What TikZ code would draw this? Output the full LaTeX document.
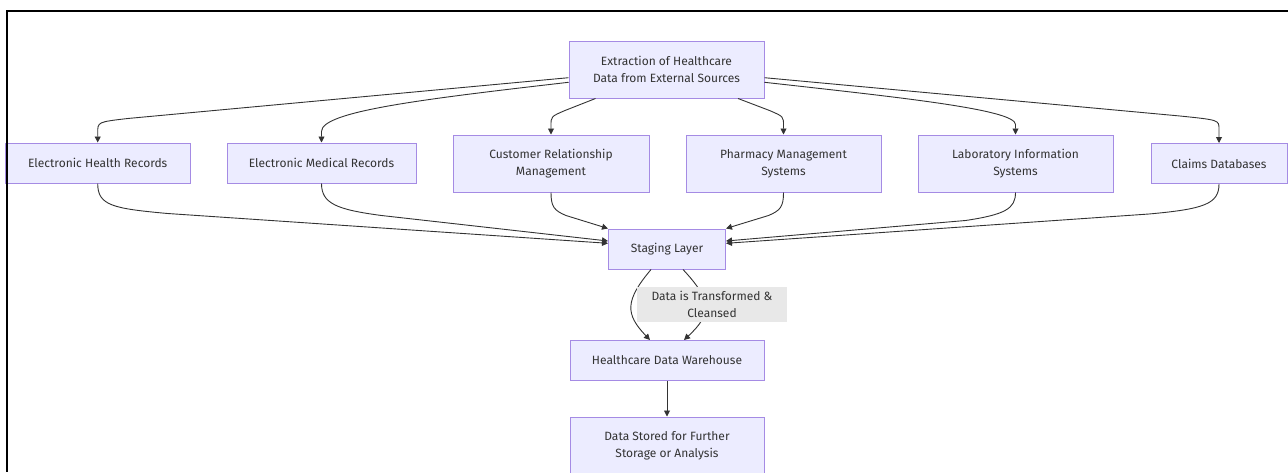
\documentclass[tikz,border=0pt]{standalone}
\usepackage{fontspec}
\setmainfont{Fira Sans}
\usetikzlibrary{arrows.meta,calc}
\definecolor{boxfill}{HTML}{ECECFF}
\definecolor{boxline}{HTML}{A58BE4}
\definecolor{ink}{HTML}{333333}
\definecolor{labelbg}{HTML}{E8E8E8}

\begin{document}
\begin{tikzpicture}[x=1pt,y=-1pt,
  box/.style={draw=boxline, fill=boxfill, line width=1pt, inner sep=0pt,
    align=center, text=ink, font=\fontsize{12}{17}\selectfont},
  onebox/.style={box, minimum height=40pt},
  twobox/.style={box, minimum height=57pt},
  lbl/.style={fill=labelbg, inner sep=0pt, align=center, text=ink,
    minimum width=150pt, minimum height=35pt, font=\fontsize{12}{17}\selectfont},
  flow/.style={draw=ink, line width=0.9pt, -{Triangle[length=6pt,width=6pt]}},
]
\useasboundingbox (0,0) rectangle (1288,472);

% sources and targets
\node[twobox, minimum width=195pt] (ext) at (666.5,69.5) {Extraction of Healthcare\\Data from External Sources};
\node[onebox, minimum width=185pt] (ehr) at (97.7,163) {Electronic Health Records};
\node[onebox, minimum width=189pt] (emr) at (321.5,163) {Electronic Medical Records};
\node[twobox, minimum width=196pt] (crm) at (551,163.5) {Customer Relationship\\Management};
\node[twobox, minimum width=195pt] (pms) at (783.5,163.5) {Pharmacy Management\\Systems};
\node[twobox, minimum width=195pt] (lis) at (1015.5,163.5) {Laboratory Information\\Systems};
\node[onebox, minimum width=136pt] (cdb) at (1219,163.5) {Claims Databases};
\node[onebox, minimum width=117pt] (stg) at (667,249) {Staging Layer};
\node[onebox, minimum width=194pt] (dwh) at (667,360.5) {Healthcare Data Warehouse};
\node[twobox, minimum width=194pt] (out) at (667,445.5) {Data Stored for Further\\Storage or Analysis};

% extraction fans out to the source systems
\draw[flow] ($(ext.west)+(0,8.2)$) -- ($(ehr.north)+(30,-24)$)
  .. controls ($(ehr.north)+(0,-20.5)$) .. ($(ehr.north)+(0,-10)$) -- (ehr.north);
\draw[flow] ($(ext.west)+(0,12.8)$)
  .. controls ($(emr.north)+(98,-43)$) and ($(emr.north)+(0,-31)$) .. ($(emr.north)+(0,-11)$) -- (emr.north);
\draw[flow] ($(ext.south)+(-71,0)$) -- ($(crm.north)+(14,-24)$)
  .. controls ($(crm.north)+(0,-18)$) .. ($(crm.north)+(0,-9)$) -- (crm.north);
\draw[flow] ($(ext.south)+(71.5,0)$) -- ($(pms.north)+(-14,-24)$)
  .. controls ($(pms.north)+(0,-18)$) .. ($(pms.north)+(0,-9)$) -- (pms.north);
\draw[flow] ($(ext.east)+(0,12.8)$)
  .. controls ($(lis.north)+(-115,-37)$) and ($(lis.north)+(0,-25)$) .. ($(lis.north)+(0,-10)$) -- (lis.north);
\draw[flow] ($(ext.east)+(0,8.2)$) -- ($(cdb.north)+(-39,-27)$)
  .. controls ($(cdb.north)+(0,-23)$) .. ($(cdb.north)+(0,-14)$) -- (cdb.north);

% source systems feed the staging layer
\draw[flow] (ehr.south) .. controls ($(ehr.south)+(0,22)$) and ($(ehr.south)+(15,25)$)
  .. ($(ehr.south)+(70,30)$) -- ($(stg.west)+(0,-5.7)$);
\draw[flow] (emr.south) .. controls ($(emr.south)+(0,20)$) and ($(emr.south)+(15,26)$)
  .. ($(emr.south)+(60,32)$) -- ($(stg.west)+(0,-8)$);
\draw[flow] (crm.south) .. controls ($(crm.south)+(0,14)$) and ($(crm.south)+(3,18)$)
  .. ($(crm.south)+(15,23)$) -- (stg.north west);
\draw[flow] (pms.south) .. controls ($(pms.south)+(0,14)$) and ($(pms.south)+(-3,18)$)
  .. ($(pms.south)+(-15,23)$) -- (stg.north east);
\draw[flow] (lis.south) .. controls ($(lis.south)+(0,16)$) and ($(lis.south)+(-10,22)$)
  .. ($(lis.south)+(-50,28)$) -- ($(stg.east)+(0,-8)$);
\draw[flow] (cdb.south) .. controls ($(cdb.south)+(0,20)$) and ($(cdb.south)+(-15,25)$)
  .. ($(cdb.south)+(-70,30)$) -- ($(stg.east)+(0,-5.7)$);

% staging to warehouse, plain and transformed
\draw[flow] ($(stg.south)+(-16,0)$) .. controls ($(stg.south)+(-42,31)$) and ($(dwh.north)+(-42,-26)$)
  .. ($(dwh.north)+(-17,0)$);
\draw[flow] ($(stg.south)+(16,0)$) .. controls ($(stg.south)+(45,31)$) and ($(dwh.north)+(45,-26)$)
  .. ($(dwh.north)+(17,0)$);
\node[lbl] (tlab) at (712,304.5) {Data is Transformed \&\\Cleansed};

\draw[flow] (dwh) -- (out);

% outer frame
\draw[line width=2pt, black] (1288,11) -- (7,11) -- (7,472);
\end{tikzpicture}
\end{document}
